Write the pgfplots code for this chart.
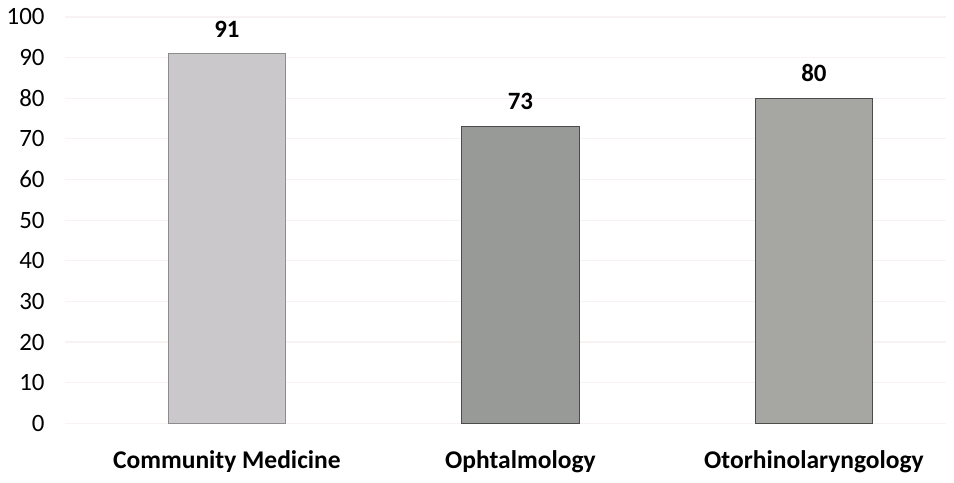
\documentclass[border=0pt]{standalone}
\usepackage{fontspec}
\setmainfont{Carlito}
\usepackage{pgfplots}
\pgfplotsset{compat=1.18}
\definecolor{barA}{RGB}{202,200,202}
\definecolor{barB}{RGB}{152,154,152}
\definecolor{barC}{RGB}{166,166,163}
\definecolor{gridc}{RGB}{248,242,242}
\begin{document}
\begin{tikzpicture}
\begin{axis}[
  scale only axis,
  width=442pt, height=204pt,
  xmin=-0.55, xmax=2.45,
  ymin=0, ymax=100,
  axis line style={draw=none},
  major tick length=0pt,
  xtick={0,1,2},
  xticklabels={Community Medicine,Ophtalmology,Otorhinolaryngology},
  xticklabel style={font=\bfseries\fontsize{12.8}{14}\selectfont, yshift=-10pt},
  ytick={0,10,...,100},
  ymajorgrids,
  grid style={gridc, line width=0.6pt},
  yticklabel style={font=\fontsize{12.5}{14}\selectfont, xshift=-7pt},
  /pgf/number format/assume math mode=true,
  ybar, bar width=59pt, bar shift=0pt,
  nodes near coords,
  every node near coord/.append style={font=\bfseries\fontsize{12.5}{14}\selectfont, inner sep=0pt, anchor=south, yshift=8pt, black},
  clip=false,
]
\addplot[fill=barA, draw=black!45, line width=0.5pt] coordinates {(0,91)};
\addplot[fill=barB, draw=black!70, line width=0.6pt] coordinates {(1,73)};
\addplot[fill=barC, draw=black!70, line width=0.6pt] coordinates {(2,80)};
\end{axis}
\path[use as bounding box] (-31pt,-29.5pt) rectangle (446pt,212.5pt);
\end{tikzpicture}
\end{document}
